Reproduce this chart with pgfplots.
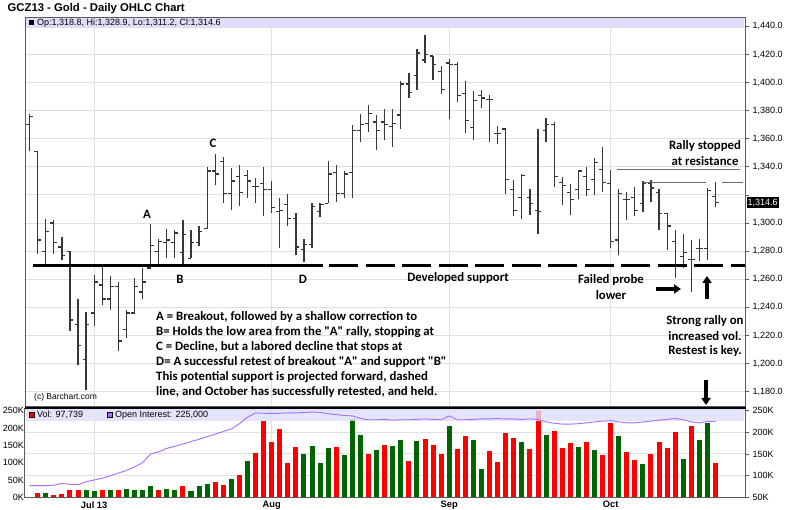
\documentclass[border=0pt]{standalone}
\usepackage{pgfplots}
\pgfplotsset{compat=1.18}
\usepackage{pgfplotstable}
\usepackage{fontspec}
\setmainfont{Liberation Sans}
\newfontfamily\annfont{Carlito}
\usetikzlibrary{arrows.meta}
\definecolor{barc}{RGB}{55,55,55}
\definecolor{gridc}{RGB}{222,222,228}
\definecolor{bandc}{RGB}{222,222,250}
\definecolor{volred}{RGB}{255,0,0}
\definecolor{volgreen}{RGB}{0,100,0}
\definecolor{oic}{RGB}{165,110,255}
\definecolor{resc}{RGB}{110,110,110}
\definecolor{framec}{RGB}{90,90,90}

\pgfplotstableread{
n O H L C
0 1370 1378 1351 1376
1 1351 1351 1278 1288
2 1280 1303 1270 1294
3 1300 1302 1278 1286
4 1283 1290 1274 1277
5 1280 1280 1223 1231
6 1228 1246 1199 1213
7 1203 1237 1181 1228
8 1236 1263 1227 1258
9 1256 1270 1242 1246
10 1246 1262 1238 1255
11 1255 1258 1209 1216
12 1224 1238 1218 1236
13 1236 1261 1236 1255
14 1251 1268 1246 1258
15 1268 1299 1267 1284
16 1280 1289 1271 1287
17 1286 1296 1275 1288
18 1286 1295 1275 1293
19 1279 1302 1270 1292
20 1275 1295 1275 1286
21 1286 1298 1284 1294
22 1296 1340 1296 1337
23 1337 1349 1327 1335
24 1344 1347 1314 1321
25 1321 1339 1309 1330
26 1333 1341 1312 1322
27 1334 1338 1318 1330
28 1326 1332 1314 1326
29 1328 1340 1305 1324
30 1324 1330 1307 1311
31 1308 1318 1282 1309
32 1313 1321 1298 1303
33 1303 1307 1277 1283
34 1281 1289 1272 1285
35 1285 1314 1282 1312
36 1308 1314 1304 1313
37 1314 1344 1314 1335
38 1336 1341 1315 1321
39 1321 1337 1318 1335
40 1336 1370 1318 1366
41 1366 1378 1358 1370
42 1371 1384 1365 1378
43 1372 1377 1352 1366
44 1372 1381 1359 1370
45 1369 1381 1354 1371
46 1377 1401 1367 1399
47 1399 1407 1389 1393
48 1405 1424 1395 1421
49 1416 1434 1414 1420
50 1419 1419 1402 1413
51 1408 1412 1392 1395
52 1414 1417 1374 1413
53 1413 1415 1386 1391
54 1392 1401 1364 1373
55 1368 1394 1359 1387
56 1391 1395 1382 1389
57 1388 1391 1358 1388
58 1364 1369 1356 1364
59 1367 1367 1321 1331
60 1324 1331 1305 1309
61 1318 1335 1303 1334
62 1318 1324 1306 1314
63 1309 1367 1292 1308
64 1366 1375 1358 1370
65 1370 1372 1326 1333
66 1329 1333 1313 1327
67 1322 1328 1306 1317
68 1324 1338 1317 1337
69 1333 1340 1319 1324
70 1331 1346 1320 1343
71 1338 1354 1322 1329
72 1328 1338 1282 1287
73 1288 1324 1277 1321
74 1317 1322 1302 1317
75 1318 1326 1305 1309
76 1314 1330 1308 1328
77 1328 1331 1315 1325
78 1322 1324 1295 1307
79 1307 1307 1281 1298
80 1287 1295 1261 1269
81 1276 1292 1268 1279
82 1274 1288 1251 1274
83 1282 1289 1273 1282
84 1282 1325 1274 1323
85 1318.8 1328.9 1311.2 1314.6
}\ohlc

\pgfplotstableread{
n Vr Vg OI
0 nan nan 77
1 11.5 nan 77
2 nan 11.5 77
3 7 nan 78
4 8.7 nan 82
5 20 nan 80
6 22 nan 79
7 nan 20 86
8 nan 18 90
9 22 nan 94
10 nan 22 100
11 20 nan 106
12 nan 25 112
13 nan 20 120
14 nan 22 130
15 nan 32 150
16 20 nan 155
17 nan 25 163
18 nan 22 168
19 34 nan 173
20 nan 17 179
21 nan 32 184
22 nan 39 190
23 45 nan 196
24 36.5 nan 202
25 nan 54 208
26 63 nan 220
27 nan 104 235
28 128 nan 245
29 221 nan 244
30 160 nan 244
31 197 nan 244
32 99 nan 245
33 145 nan 245
34 nan 124 246
35 nan 148 247
36 nan 98 246
37 nan 143 243
38 145 nan 241
39 nan 121 239
40 nan 225 238
41 nan 180 232
42 124 nan 229
43 nan 138 229
44 150 nan 230
45 nan 148 228
46 nan 165 229
47 104 nan 229
48 nan 162 230
49 169 nan 231
50 150 nan 230
51 125 nan 229
52 nan 206 238
53 140 nan 229
54 176 nan 229
55 nan 164 230
56 nan 81 231
57 134 nan 231
58 101 nan 232
59 186 nan 231
60 171 nan 231
61 nan 160 230
62 139 nan 231
63 250 nan 230
64 nan 181 224
65 191 nan 221
66 141 nan 219
67 156 nan 219
68 nan 146 220
69 161 nan 222
70 nan 137.5 224
71 121 nan 226
72 214 nan 227
73 nan 176 224
74 131 nan 222
75 109 nan 222
76 nan 96 224
77 124 nan 226
78 160 nan 228
79 141 nan 230
80 189 nan 232
81 nan 111 229
82 206 nan 224
83 nan 166 222
84 nan 215 225
85 98 nan 225
}\vol

\begin{document}
\begin{tikzpicture}
\useasboundingbox (0pt,0pt) rectangle (800pt,510pt);
\fill[white] (0pt,0pt) rectangle (800pt,510pt);

% ---------------- price panel ----------------
\begin{axis}[
  at={(25pt,103.3pt)}, anchor=south west, scale only axis,
  width=720pt, height=389pt,
  xmin=-0.57, xmax=88.65, ymin=1169.3, ymax=1446.2,
  axis line style={draw=framec, line width=1pt},
  xtick={8,30,52,72}, xticklabels={}, xtick style={draw=none},
  ytick={1180,1200,...,1440}, ytick pos=right, yticklabel pos=right,
  yticklabels={{1,180.0},{1,200.0},{1,220.0},{1,240.0},{1,260.0},{1,280.0},{1,300.0},{},{1,340.0},{1,360.0},{1,380.0},{1,400.0},{1,420.0},{1,440.0}},
  ymajorgrids, xmajorgrids,
  grid style={draw=gridc, line width=1pt},
  tick align=outside, major tick length=4pt,
  ytick style={draw=framec, line width=0.8pt},
  yticklabel style={font=\fontsize{9}{10}\selectfont},
]
\addplot[draw=none, mark=none, forget plot, error bars/.cd, y dir=plus, y explicit, error mark=none,
  error bar style={draw=barc, line width=1.25pt}]
  table[x=n, y=L, y error plus expr=\thisrow{H}-\thisrow{L}] {\ohlc};
\addplot[draw=none, mark=none, forget plot, error bars/.cd, x dir=minus, x fixed=0.42, error mark=none,
  error bar style={draw=barc, line width=1.25pt}]
  table[x=n, y=O] {\ohlc};
\addplot[draw=none, mark=none, forget plot, error bars/.cd, x dir=plus, x fixed=0.42, error mark=none,
  error bar style={draw=barc, line width=1.25pt}]
  table[x=n, y=C] {\ohlc};
\end{axis}

% ---------------- volume panel: grid + right axis ----------------
\begin{axis}[
  at={(25pt,12.7pt)}, anchor=south west, scale only axis,
  width=720pt, height=88.8pt,
  xmin=-0.57, xmax=88.65, ymin=50, ymax=255.1,
  axis line style={draw=none},
  xtick={8,30,52,72}, xticklabels={}, xtick style={draw=none},
  ytick={50,100,...,250}, ytick pos=right, yticklabel pos=right,
  yticklabel={\pgfmathprintnumber{\tick}K},
  ymajorgrids, xmajorgrids,
  grid style={draw=gridc, line width=1pt},
  tick align=outside, major tick length=4pt,
  ytick style={draw=framec, line width=0.8pt},
  /pgf/number format/assume math mode=true,
  yticklabel style={font=\fontsize{9}{10}\selectfont},
]
\end{axis}

% ---------------- volume panel: bars + left axis ----------------
\begin{axis}[
  at={(25pt,12.7pt)}, anchor=south west, scale only axis,
  width=720pt, height=88.8pt,
  xmin=-0.57, xmax=88.65, ymin=0, ymax=256.4,
  axis line style={draw=framec, line width=1pt},
  xtick={8,30,52,72}, xticklabels={Jul 13,Aug,Sep,Oct}, xtick pos=bottom,
  xtick style={draw=none},
  xticklabel style={font=\bfseries\fontsize{9.3}{10}\selectfont, yshift=-0.5pt},
  ytick={0,50,...,250}, ytick pos=left, yticklabel pos=left,
  yticklabel={\pgfmathprintnumber{\tick}K},
  tick align=inside, major tick length=0pt,
  ytick style={draw=none},
  /pgf/number format/assume math mode=true,
  yticklabel style={font=\fontsize{9}{10}\selectfont, inner xsep=1pt},
]
\addplot[ycomb, draw=volred, line width=5pt, forget plot] table[x=n, y=Vr] {\vol};
\addplot[ycomb, draw=volgreen, line width=5pt, forget plot] table[x=n, y=Vg] {\vol};
\end{axis}

\begin{scope}[x=1pt,y=1pt]
% volume band
\fill[bandc, opacity=0.8] (25.6,89.3) rectangle (744.4,101.5);
\end{scope}

% ---------------- open interest line ----------------
\begin{axis}[
  at={(25pt,12.7pt)}, anchor=south west, scale only axis,
  width=720pt, height=88.8pt,
  xmin=-0.57, xmax=88.65, ymin=50, ymax=255.1,
  hide axis,
]
\addplot[draw=oic, line width=0.9pt, forget plot] table[x=n, y=OI] {\vol};
\end{axis}

\begin{scope}[x=1pt,y=1pt]
\node[anchor=west, font=\bfseries\fontsize{11.3}{13}\selectfont, inner sep=0pt] at (7.5,501) {GCZ13 - Gold - Daily OHLC Chart};

% header band of price panel
\fill[bandc] (25.6,482.3) rectangle (744.4,491.8);
\fill[black] (29,484.8) rectangle (34,489.8);
\node[anchor=west, inner sep=0pt, font=\fontsize{9}{10}\selectfont] at (37,487.2) {Op:1,318.8, Hi:1,328.9, Lo:1,311.2, Cl:1,314.6};

% last price box
\node[anchor=west, fill=black, text=white, inner xsep=1pt, inner ysep=1.5pt, font=\fontsize{9}{10}\selectfont] at (746.5,307.4) {1,314.6};

% separator line
\draw[black, line width=2.2pt] (24.5,102) -- (745.5,102);

% volume legend
\fill[volred, draw=black, line width=0.4pt] (29,92.5) rectangle (34,97.5);
\node[anchor=west, inner sep=0pt, font=\fontsize{9}{10}\selectfont] at (37,95) {Vol: 97,739};
\fill[oic, draw=black, line width=0.4pt] (107,92.5) rectangle (112,97.5);
\node[anchor=west, inner sep=0pt, font=\fontsize{9}{10}\selectfont] at (115,95) {Open Interest: 225,000};

% ---------------- annotations ----------------
\draw[black, line width=3pt] (33,244.3) -- (322.7,244.3);
\draw[black, line width=3pt, dash pattern=on 29pt off 7.5pt] (329,244.3) -- (745,244.3);

\draw[resc, line width=1.3pt] (617,340.3) -- (740,340.3);
\draw[resc, line width=1.3pt] (643,327.7) -- (706,327.7);
\draw[resc, line width=1.3pt] (722,327.7) -- (743,327.7);

\begin{scope}[every node/.style={font=\annfont\bfseries\fontsize{12.8}{14}\selectfont, inner sep=0pt}]
\node at (147,296) {A};
\node at (180,230.5) {B};
\node at (213,367) {C};
\node at (303,230.5) {D};
\node at (458,232) {Developed support};
\node at (611,230) {Failed probe};
\node at (611,215) {lower};
\node at (705,364) {Rally stopped};
\node at (705,349) {at resistance};
\node at (705,189) {Strong rally on};
\node at (705,174) {increased vol.};
\node at (705,158.5) {Restest is key.};
\node[anchor=west] at (156,193.3) {A = Breakout, followed by a shallow correction to};
\node[anchor=west] at (156,178.3) {B= Holds the low area from the "A" rally, stopping at};
\node[anchor=west] at (156,163.3) {C = Decline, but a labored decline that stops at};
\node[anchor=west] at (156,148.3) {D= A successful retest of breakout "A" and support "B"};
\node[anchor=west] at (156,133.3) {This potential support is projected forward, dashed};
\node[anchor=west] at (156,118.3) {line, and October has successfully retested, and held.};
\end{scope}

\node[anchor=west, inner sep=0pt, font=\fontsize{8.5}{10}\selectfont] at (34,113) {(c) Barchart.com};

\draw[black, line width=3.5pt, -{Triangle[length=7pt,width=9pt]}] (656,221) -- (681,221);
\draw[black, line width=3.5pt, -{Triangle[length=7pt,width=9pt]}] (707,211) -- (707,234);
\draw[black, line width=3.5pt, -{Triangle[length=7pt,width=9pt]}] (706,130) -- (706,105);
\end{scope}

\end{tikzpicture}
\end{document}
